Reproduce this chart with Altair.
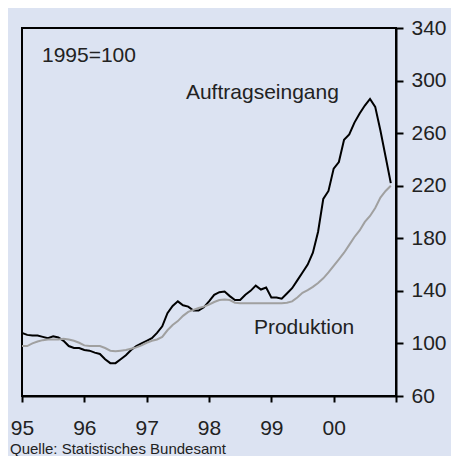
import altair as alt
import pandas as pd

# Monthly data Jan 1995 .. Dec 2000 (1995=100)
auftragseingang = [
    108, 106.5, 106, 106, 105, 104, 105.5, 104.5, 102, 98, 96.5, 96.5,
    95, 94.5, 93, 92, 88, 85, 85, 88, 91, 95, 98, 100,
    102, 104, 108, 113, 123, 128.5, 132, 129, 128, 125, 125, 127.5,
    132, 137, 139, 139.5, 136, 133, 133, 137, 140, 144, 141, 142.5,
    135, 135, 134, 138, 142, 148, 154, 160, 169, 185, 210, 216,
    233, 238, 255, 259, 268, 275, 281, 286, 280, 262, 242, 222,
]
produktion = [
    98, 98, 100, 101.5, 102.5, 103, 103, 103, 103.5, 103, 102, 100.5,
    98.5, 98, 98, 98, 96.5, 94.5, 94, 94.5, 95, 96, 97, 98.5,
    100.5, 102, 103, 105, 110, 114, 117, 121, 124, 125.5, 127, 128,
    129.5, 131.5, 133, 133.5, 133, 131, 130.5, 130.5, 130.5, 130.5, 130.5, 130.5,
    130.5, 130.5, 130.5, 131, 132, 135, 138.5, 140.5, 143, 146, 149.5, 154,
    159, 164, 169, 175, 181, 186, 192.5, 197, 203, 211, 216, 220,
]
year_ticks = [1995, 1996, 1997, 1998, 1999, 2000, 2001]
y_ticks = [60, 100, 140, 180, 220, 260, 300, 340]

months = [1995 + i / 12 for i in range(len(auftragseingang))]
df = pd.DataFrame({
    "t": months * 2,
    "v": auftragseingang + produktion,
    "serie": ["Auftragseingang"] * len(months) + ["Produktion"] * len(months),
})

labels = pd.DataFrame({
    "t": [1995.32, 1997.63, 1998.72],
    "v": [314.5, 286, 107],
    "txt": ["1995=100", "Auftragseingang", "Produktion"],
})

BG = "#dce3f2"
FONT = "Liberation Sans"
TXT = "#222222"

x_enc = alt.X(
    "t:Q",
    scale=alt.Scale(domain=[1995, 2001], nice=False, zero=False),
    axis=alt.Axis(
        values=year_ticks, title=None, grid=False,
        labelExpr="datum.value == 2001 ? '' : substring(toString(datum.value), 2, 4)",
        labelFlush=False, labelOverlap=False,
        tickSize=6, tickWidth=2, tickColor="black",
        domainColor="black", domainWidth=2,
        labelPadding=15, labelFontSize=21, labelFont=FONT, labelColor=TXT,
    ),
)
y_enc = alt.Y(
    "v:Q",
    scale=alt.Scale(domain=[60, 340], nice=False, zero=False),
    axis=alt.Axis(
        orient="right", values=y_ticks, title=None, grid=False,
        labelFlush=False, labelOverlap=False,
        tickSize=7, tickWidth=2, tickColor="black",
        domainColor="black", domainWidth=2,
        labelPadding=8, labelFontSize=21, labelFont=FONT, labelColor=TXT,
    ),
)

lines = alt.Chart(df).mark_line(strokeWidth=2, clip=True).encode(
    x=x_enc,
    y=y_enc,
    color=alt.Color(
        "serie:N",
        scale=alt.Scale(domain=["Produktion", "Auftragseingang"], range=["#a0a0a0", "#000000"]),
        legend=None,
    ),
    order=alt.Order("t:Q"),
    detail="serie:N",
)

txt = alt.Chart(labels).mark_text(
    align="left", baseline="alphabetic", fontSize=21, font=FONT, color=TXT
).encode(x="t:Q", y="v:Q", text="txt:N")

source = alt.Chart(pd.DataFrame({"s": ["Quelle: Statistisches Bundesamt"]})).mark_text(
    align="left", baseline="alphabetic", fontSize=15, font=FONT, color=TXT
).encode(x=alt.value(-12), y=alt.value(426), text="s:N")

chart = alt.layer(lines, txt, source).properties(
    width=374, height=368,
    autosize=alt.AutoSizeParams(type="none"),
    padding={"left": 14, "top": 20, "right": 55, "bottom": 60},
).configure(background=BG).configure_view(stroke="black", strokeWidth=2, fill=BG)

chart.save("out.html", embed_options={"renderer": "svg", "actions": False})
